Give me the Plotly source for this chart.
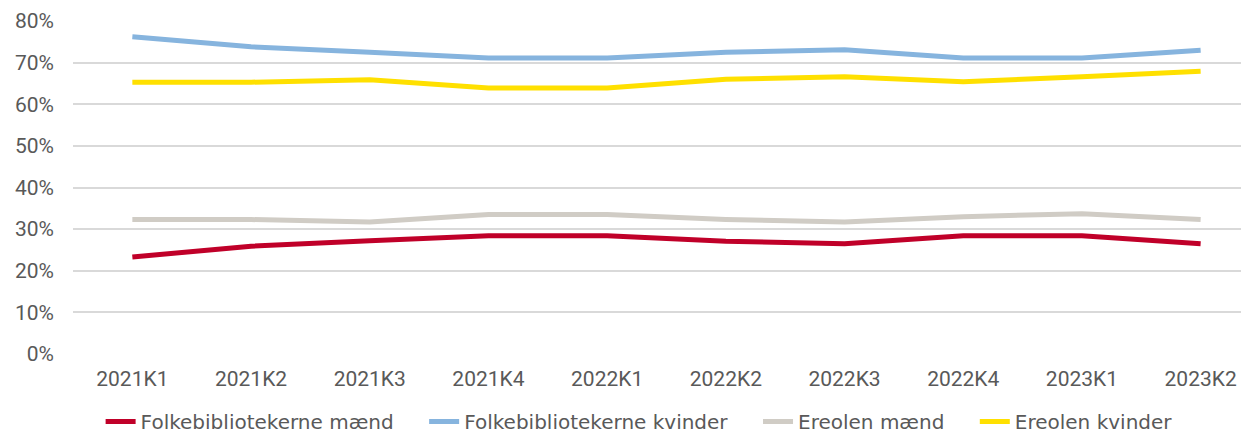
import plotly.graph_objects as go

quarters = ["2021K1", "2021K2", "2021K3", "2021K4", "2022K1", "2022K2", "2022K3", "2022K4", "2023K1", "2023K2"]
folk_maend = [0.233, 0.259, 0.272, 0.284, 0.284, 0.271, 0.265, 0.284, 0.284, 0.265]
folk_kvinder = [0.762, 0.738, 0.725, 0.711, 0.711, 0.725, 0.731, 0.711, 0.711, 0.730]
ereolen_maend = [0.323, 0.323, 0.317, 0.335, 0.335, 0.323, 0.317, 0.330, 0.337, 0.323]
ereolen_kvinder = [0.653, 0.653, 0.659, 0.639, 0.639, 0.660, 0.666, 0.654, 0.666, 0.679]

names = ["Folkebibliotekerne mænd", "Folkebibliotekerne kvinder", "Ereolen mænd", "Ereolen kvinder"]
colors = ["#C00029", "#86B4DE", "#D0CCC5", "#FFE000"]
values = [folk_maend, folk_kvinder, ereolen_maend, ereolen_kvinder]

pad = "\u00a0" * 4
fig = go.Figure()
for i, (name, vals, col) in enumerate(zip(names, values, colors)):
    label = name + (pad if i < len(names) - 1 else "")
    fig.add_trace(go.Scatter(
        x=list(range(len(quarters))), y=vals, name=label, mode="lines",
        line=dict(color=col, width=5),
    ))

font = dict(family="Roboto", size=21, color="#595959")
fig.update_layout(
    width=1241, height=435,
    margin=dict(l=73, r=0, t=21, b=81, autoexpand=False),
    paper_bgcolor="white", plot_bgcolor="white",
    font=font,
    showlegend=True,
    legend=dict(orientation="h", xref="container", x=0.515, xanchor="center",
                yref="container", y=0.031, yanchor="middle",
                font=dict(family="DejaVu Sans", size=20, color="#595959"),
                itemwidth=30, tracegroupgap=0),
    xaxis=dict(
        range=[-0.5, 9.34], tickmode="array",
        tickvals=list(range(len(quarters))), ticktext=quarters,
        showgrid=False, zeroline=False, showline=False, ticks="",
        ticklabelstandoff=10, automargin=False,
    ),
    yaxis=dict(
        range=[0, 0.8], dtick=0.1, tickformat=".0%",
        showgrid=True, gridcolor="#D9D9D9", gridwidth=2,
        zeroline=False, showline=False, ticks="",
        ticklabelstandoff=18, automargin=False,
    ),
)
fig.write_html("out.html", config={"displayModeBar": False},
               post_script="document.body.style.margin='0';document.body.style.overflow='hidden';")
